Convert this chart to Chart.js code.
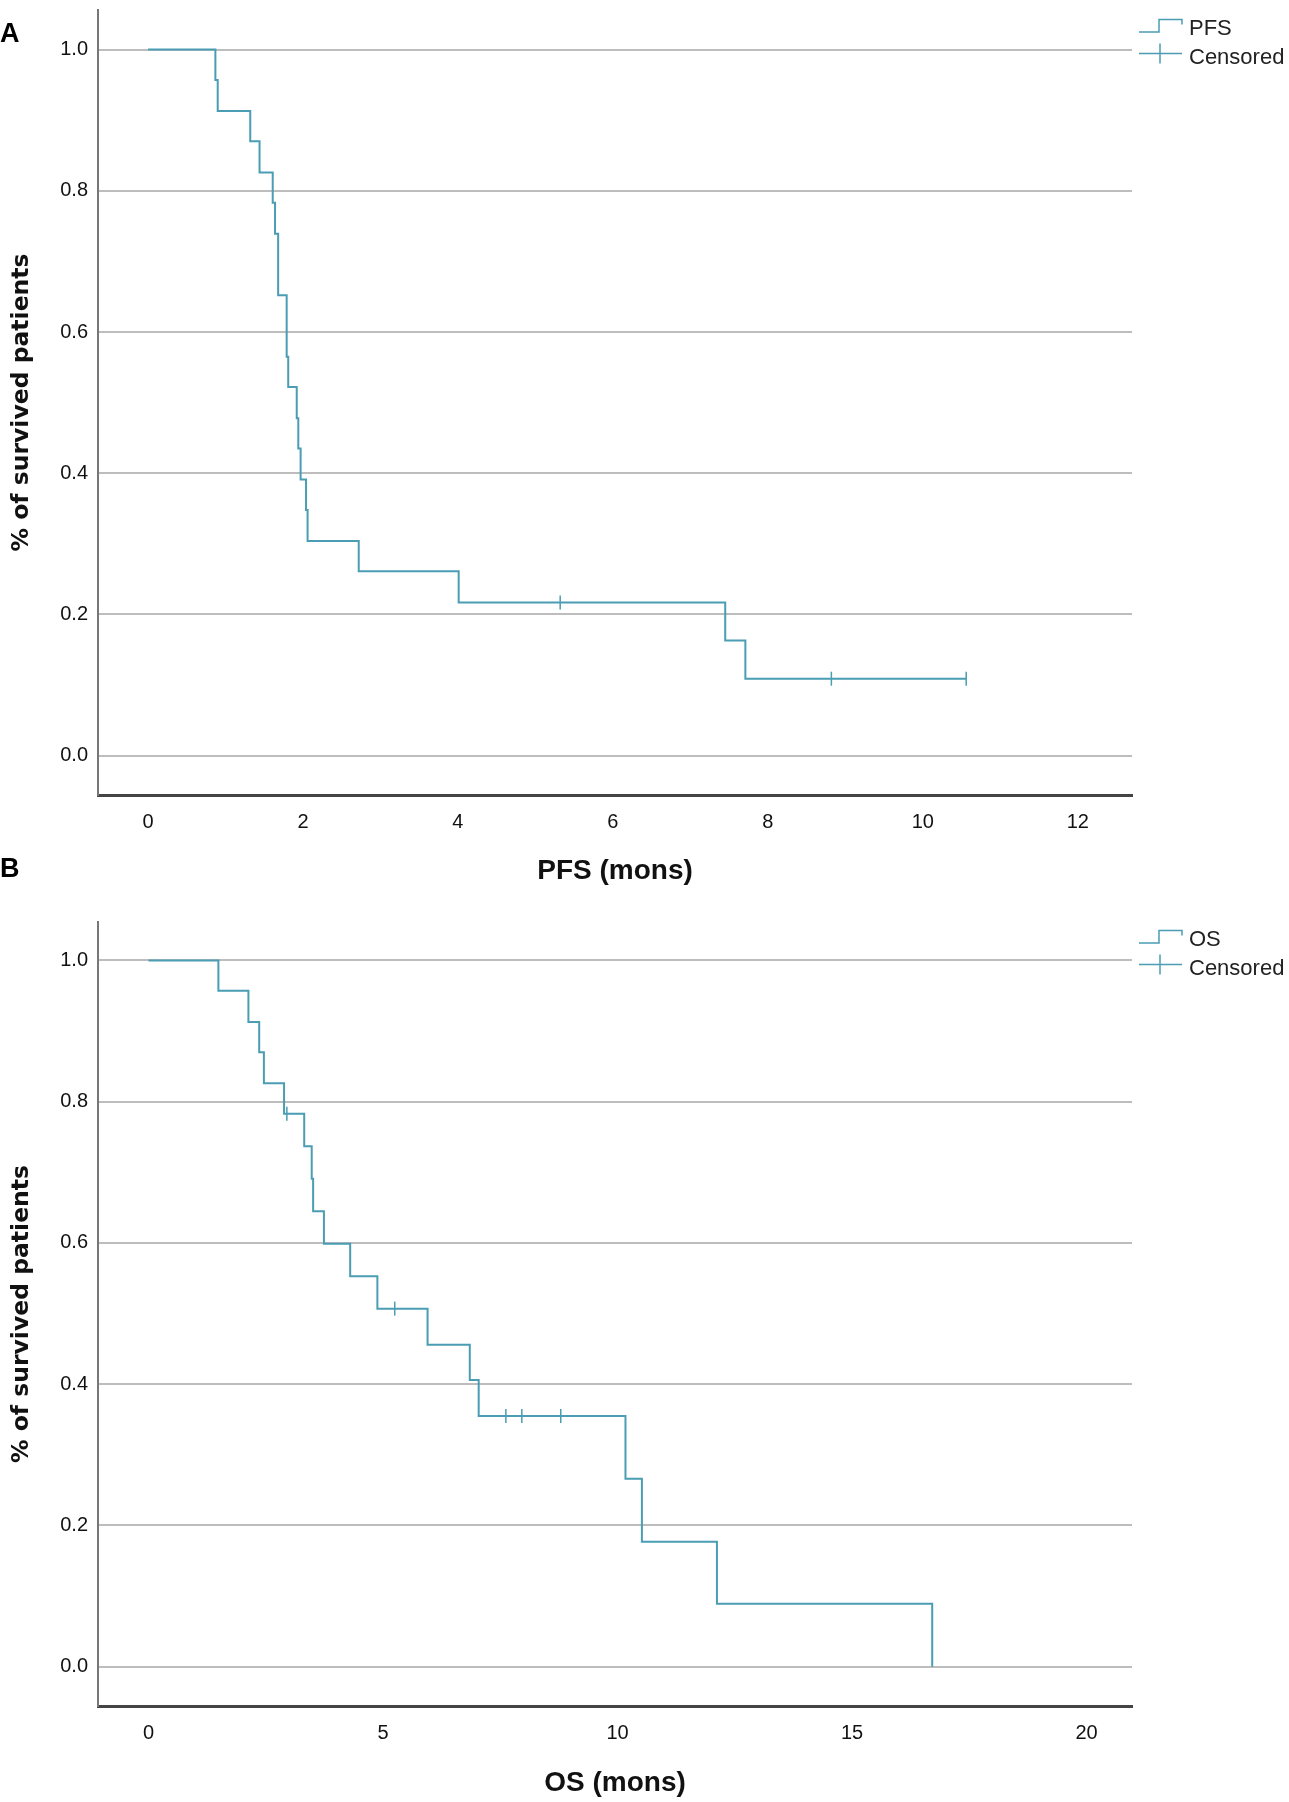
<!DOCTYPE html>
<html>
<head>
<meta charset="utf-8">
<script src="https://cdn.jsdelivr.net/npm/chart.js@4.4.1/dist/chart.umd.min.js"></script>
<style>
  html, body { margin: 0; padding: 0; background: #fff; }
  body { width: 1289px; height: 1802px; position: relative; overflow: hidden; }
  .panel { position: absolute; left: 0; width: 1289px; }
  .tag { position: absolute; left: 0; font: bold 27px "Liberation Sans", Arial; line-height: 27px; color: #000; z-index: 2; }
</style>
</head>
<body>
<div class="panel" style="top:0;height:890px"><canvas id="pfsChart"></canvas></div>
<div class="panel" style="top:890px;height:912px"><canvas id="osChart"></canvas></div>
<div class="tag" style="top:20px">A</div>
<div class="tag" style="top:855px">B</div>
<script>
// PFS curve (months, survival after each step)
const pfsTime = [0, 0.87, 0.90, 1.32, 1.44, 1.61, 1.64, 1.68, 1.79, 1.81, 1.92, 1.94, 1.97, 2.04, 2.06, 2.72, 4.01, 7.45, 7.71, 10.56];
const pfsSurv = [1.000, 0.957, 0.913, 0.870, 0.826, 0.783, 0.739, 0.652, 0.565, 0.522, 0.478, 0.435, 0.391, 0.348, 0.304, 0.261, 0.217, 0.163, 0.109, 0.109];
const pfsCensorTime = [5.32, 8.82, 10.56];
const pfsCensorSurv = [0.217, 0.109, 0.109];
const pfsTicks = [0, 2, 4, 6, 8, 10, 12];

// OS curve
const osTime = [0, 1.49, 2.13, 2.36, 2.46, 2.89, 3.32, 3.48, 3.51, 3.74, 4.30, 4.88, 5.95, 6.85, 7.04, 10.17, 10.52, 12.12, 16.71];
const osSurv = [1.000, 0.957, 0.913, 0.870, 0.826, 0.783, 0.737, 0.691, 0.645, 0.599, 0.553, 0.507, 0.456, 0.406, 0.355, 0.266, 0.177, 0.089, 0.000];
const osCensorTime = [2.95, 5.25, 7.62, 7.96, 8.79];
const osCensorSurv = [0.783, 0.507, 0.355, 0.355, 0.355];
const osTicks = [0, 5, 10, 15, 20];

const yTicks = [0, 0.2, 0.4, 0.6, 0.8, 1.0];

const lineColor = "#4a9db3";
const textFont = "'Liberation Sans', Arial, sans-serif";

// legend drawn to the right of the plot, lined up on the 1.0 gridline
const kmLegend = {
    id: "kmLegend",
    afterDraw(chart, args, opts) {
        const ctx = chart.ctx;
        const x0 = chart.chartArea.right + 7;
        const yRef = chart.scales.y.getPixelForValue(1.0);
        ctx.save();
        ctx.strokeStyle = lineColor;
        ctx.lineWidth = 1.5;
        ctx.beginPath();
        ctx.moveTo(x0, yRef - 17.5);
        ctx.lineTo(x0 + 20, yRef - 17.5);
        ctx.lineTo(x0 + 20, yRef - 30);
        ctx.lineTo(x0 + 43, yRef - 30);
        ctx.lineTo(x0 + 43, yRef - 25);
        ctx.stroke();
        ctx.beginPath();
        ctx.moveTo(x0, yRef + 4);
        ctx.lineTo(x0 + 43, yRef + 4);
        ctx.moveTo(x0 + 21, yRef - 6);
        ctx.lineTo(x0 + 21, yRef + 14);
        ctx.stroke();
        ctx.fillStyle = "#222";
        ctx.font = "22px " + textFont;
        ctx.textBaseline = "middle";
        ctx.fillText(opts.name, x0 + 50, yRef - 21);
        ctx.fillText("Censored", x0 + 50, yRef + 8);
        ctx.restore();
    },
};

function drawSurvival(canvasId, p) {
    const ctx = document.getElementById(canvasId).getContext("2d");
    const curve = p.time.map((t, i) => ({ x: t, y: p.surv[i] }));
    const censored = p.censorTime.map((t, i) => ({ x: t, y: p.censorSurv[i] }));

    return new Chart(ctx, {
        type: "line",
        data: {
            datasets: [
                {
                    label: p.name,
                    data: curve,
                    stepped: true,
                    borderColor: lineColor,
                    borderWidth: 2,
                    pointRadius: 0,
                    fill: false,
                },
                {
                    type: "scatter",
                    label: "Censored",
                    data: censored,
                    showLine: false,
                    pointStyle: "line",
                    pointRotation: 90,
                    pointRadius: 7,
                    borderColor: lineColor,
                    pointBorderColor: lineColor,
                    pointBorderWidth: 1.5,
                    borderWidth: 1.5,
                },
            ],
        },
        options: {
            responsive: true,
            maintainAspectRatio: false,
            animation: false,
            devicePixelRatio: 1,
            layout: { padding: { left: 0, right: 157, top: p.padTop, bottom: 0 } },
            plugins: {
                legend: { display: false },
                tooltip: { enabled: false },
                kmLegend: { name: p.name },
            },
            scales: {
                x: {
                    type: "linear",
                    min: p.xMin,
                    max: p.xMax,
                    afterBuildTicks: (scale) => { scale.ticks = p.xTicks.map((v) => ({ value: v })); },
                    afterFit: (scale) => {
                        scale.height = p.xHeight;
                        scale.paddingLeft = 0;
                        scale.paddingRight = 0;
                    },
                    grid: { display: false },
                    border: { display: true, color: "#444", width: 3 },
                    ticks: {
                        padding: 7,
                        color: "#111",
                        font: { family: textFont, size: 20 },
                        callback: (v) => String(v),
                    },
                    title: {
                        display: true,
                        text: p.xTitle,
                        color: "#111",
                        font: { family: textFont, size: 28, weight: "bold" },
                        padding: { top: 0, bottom: p.titlePad },
                    },
                },
                y: {
                    type: "linear",
                    min: -0.0557,
                    max: p.yMax,
                    afterBuildTicks: (scale) => { scale.ticks = yTicks.map((v) => ({ value: v })); },
                    afterFit: (scale) => {
                        scale.width = 98;
                        scale.paddingTop = 0;
                        scale.paddingBottom = 0;
                    },
                    grid: { color: "#bdbdbd", lineWidth: 2, drawTicks: false },
                    border: { display: true, color: "#777", width: 2 },
                    ticks: {
                        padding: 10,
                        color: "#111",
                        font: { family: textFont, size: 20 },
                        callback: (v) => v.toFixed(1),
                    },
                    title: {
                        display: true,
                        text: "% of survived patients",
                        color: "#111",
                        font: { family: "'DejaVu Sans'", size: 23.5, weight: "bold" },
                        padding: { top: 8, bottom: 0 },
                    },
                },
            },
        },
        plugins: [kmLegend],
    });
}

drawSurvival("pfsChart", {
    name: "PFS",
    time: pfsTime,
    surv: pfsSurv,
    censorTime: pfsCensorTime,
    censorSurv: pfsCensorSurv,
    xTicks: pfsTicks,
    xMin: -0.645,
    xMax: 12.70,
    yMax: 1.056,
    padTop: 10,
    xHeight: 95,
    xTitle: "PFS (mons)",
    titlePad: 2,
});

drawSurvival("osChart", {
    name: "OS",
    time: osTime,
    surv: osSurv,
    censorTime: osCensorTime,
    censorSurv: osCensorSurv,
    xTicks: osTicks,
    xMin: -1.077,
    xMax: 20.97,
    yMax: 1.0545,
    padTop: 32,
    xHeight: 96,
    xTitle: "OS (mons)",
    titlePad: 2,
});
</script>
</body>
</html>
